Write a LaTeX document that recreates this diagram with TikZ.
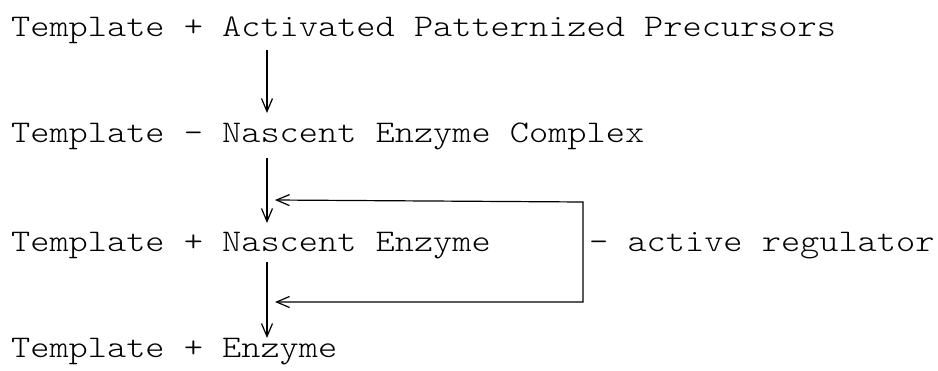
\documentclass[tikz,border=0pt]{standalone}
\usepackage{fontspec}
\newfontfamily\courfont[Extension=.otf,FakeStretch=1.16]{lmmonolt10-regular}
\usetikzlibrary{arrows.meta}
\begin{document}
\begin{tikzpicture}[x=1pt,y=-1pt,
  row/.style={anchor=base west,inner sep=0pt,font=\courfont\fontsize{31.5}{38}\selectfont},
  arr/.style={line width=1.2pt,-{Straight Barb[length=13pt,width=11pt,line width=1.2pt]}},
  fb/.style={line width=1.2pt,{Straight Barb[length=13pt,width=11pt,line width=1.2pt]}-{Straight Barb[length=13pt,width=11pt,line width=1.2pt]}}]
\useasboundingbox (0,0) rectangle (938,370);
\node[row] (r1) at (11,36) {Template + Activated Patternized Precursors};
\node[row] (r2) at (11,142) {Template - Nascent Enzyme Complex};
\node[row] (r3) at (11,251) {Template + Nascent Enzyme};
\node[row] (r4) at (11,357) {Template + Enzyme};
\node[row] (reg) at (589,251) {- active regulator};
% vertical arrows
\coordinate (a1s) at (267,50);  \coordinate (a1e) at (267,113);
\coordinate (a2s) at (267,158); \coordinate (a2e) at (267,223);
\coordinate (a3s) at (267,262); \coordinate (a3e) at (267,338);
\draw[arr] (a1s) -- (a1e);
\draw[arr] (a2s) -- (a2e);
\draw[arr] (a3s) -- (a3e);
% feedback loop
\coordinate (t1) at (275,200); \coordinate (c1) at (583,202);
\coordinate (c2) at (583,302); \coordinate (t2) at (275,302);
\draw[fb] (t1) -- (c1) -- (c2) -- (t2);
\end{tikzpicture}
\end{document}
